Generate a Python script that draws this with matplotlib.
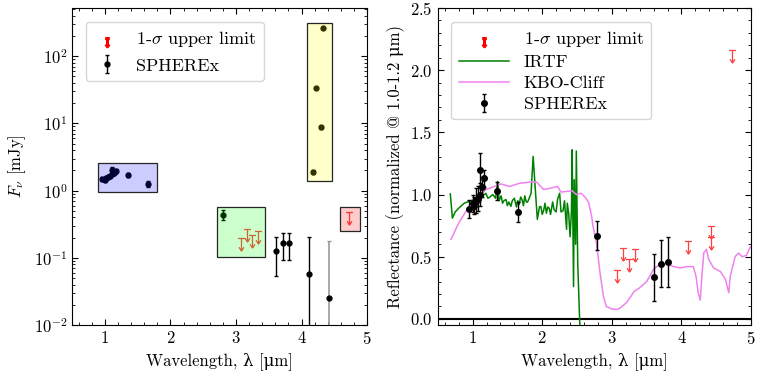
import numpy as np
import matplotlib
matplotlib.use('Agg')
import matplotlib.pyplot as plt
from matplotlib.patches import Rectangle
from matplotlib.path import Path
from matplotlib.lines import Line2D

plt.rcParams['font.family'] = ['cmr10', 'DejaVu Serif']
plt.rcParams['mathtext.fontset'] = 'cm'
plt.rcParams['axes.formatter.use_mathtext'] = True
plt.rcParams['axes.unicode_minus'] = False
plt.rcParams['font.size'] = 12

# --- left panel: flux density (mJy) ---
flux_wl = [0.96, 1.00, 1.02, 1.05, 1.08, 1.10, 1.11, 1.14, 1.17, 1.35, 1.65,
           2.80, 3.61, 3.71, 3.81, 4.11, 4.18, 4.22, 4.30, 4.33]
flux = [1.50, 1.45, 1.55, 1.60, 1.65, 1.75, 2.00, 1.85, 1.95, 1.70, 1.25,
        0.44, 0.128, 0.164, 0.164, 0.058, 1.90, 33.7, 8.8, 262.0]
flux_err = [0.10, 0.10, 0.10, 0.12, 0.12, 0.12, 0.25, 0.15, 0.15, 0.12, 0.12,
            0.07, 0.075, 0.07, 0.07, 0.145, 0.15, 1.5, 0.5, 10.0]
# faint point with a grey error bar
faint_wl, faint_flux, faint_err = 4.42, 0.025, 0.155

flux_lim_wl = [3.07, 3.17, 3.25, 3.34, 4.72]
flux_lim = [0.197, 0.27, 0.218, 0.25, 0.48]

# highlight boxes: (x0, x1, y0, y1, colour)
boxes = [(0.89, 1.79, 0.95, 2.56, 'blue'),
         (4.09, 4.46, 1.39, 310.0, 'yellow'),
         (2.71, 3.44, 0.102, 0.577, 'lime'),
         (4.59, 4.89, 0.253, 0.577, 'red')]

# --- right panel: reflectance ---
refl_wl = [0.95, 1.00, 1.02, 1.05, 1.08, 1.10, 1.11, 1.14, 1.17, 1.35, 1.65,
           2.79, 3.61, 3.71, 3.81]
refl = [0.885, 0.93, 0.91, 0.95, 0.965, 1.00, 1.20, 1.06, 1.13, 1.03, 0.86,
        0.67, 0.335, 0.445, 0.46]
refl_err = [0.07, 0.07, 0.07, 0.10, 0.10, 0.09, 0.13, 0.08, 0.07, 0.07, 0.08,
            0.12, 0.19, 0.19, 0.20]

refl_lim_wl = [3.07, 3.16, 3.25, 3.33, 4.10, 4.42, 4.42, 4.73]
refl_lim = [0.39, 0.57, 0.48, 0.56, 0.63, 0.745, 0.66, 2.16]

irtf_wl = [0.68, 0.71, 0.75, 0.80, 0.88, 0.95, 1.02, 1.10, 1.15, 1.19, 1.22,
           1.25, 1.29, 1.33, 1.36, 1.38, 1.41, 1.43, 1.45, 1.48, 1.50, 1.52,
           1.55, 1.57, 1.60, 1.63, 1.65, 1.67, 1.69, 1.71, 1.73, 1.75, 1.77,
           1.79, 1.82, 1.84, 1.87, 1.90, 1.93, 1.96, 1.98, 2.00, 2.02, 2.04,
           2.06, 2.08, 2.10, 2.12, 2.15, 2.17, 2.20, 2.22, 2.25, 2.27, 2.30,
           2.32, 2.35, 2.36, 2.38, 2.40, 2.42, 2.43, 2.45, 2.46, 2.48, 2.49,
           2.51, 2.54]
irtf = [1.005, 0.81, 0.86, 0.89, 0.93, 0.945, 0.96, 0.97, 0.99, 1.01, 0.97,
        0.98, 1.00, 0.97, 1.106, 0.95, 0.99, 0.93, 0.95, 0.96, 0.91, 0.94,
        0.905, 0.95, 0.97, 0.90, 0.95, 0.92, 0.98, 0.96, 0.91, 0.99, 0.94,
        0.94, 0.98, 1.01, 1.307, 1.05, 0.80, 0.90, 0.905, 0.84, 0.87, 0.93,
        0.85, 0.90, 0.89, 0.84, 0.94, 0.88, 0.86, 0.96, 1.01, 0.86, 0.87,
        0.95, 0.72, 0.93, 0.85, 0.66, 0.87, 1.36, 0.26, 1.12, 0.60, 1.35,
        0.45, -0.05]

kbo_wl = [0.69, 0.80, 0.905, 1.00, 1.10, 1.19, 1.29, 1.41, 1.53, 1.67, 1.82,
          1.92, 2.02, 2.11, 2.22, 2.27, 2.43, 2.49, 2.56, 2.63, 2.67, 2.71,
          2.73, 2.78, 2.83, 2.88, 2.92, 3.00, 3.07, 3.12, 3.21, 3.26, 3.32,
          3.40, 3.50, 3.60, 3.69, 3.79, 3.89, 3.98, 4.08, 4.17, 4.21, 4.24,
          4.27, 4.29, 4.32, 4.36, 4.39, 4.46, 4.56, 4.63, 4.68, 4.70, 4.77,
          4.82, 4.87, 4.93, 4.99]
kbo = [0.64, 0.77, 0.865, 0.93, 0.985, 1.04, 1.06, 1.085, 1.065, 1.09, 1.10,
       1.10, 1.04, 1.05, 1.065, 1.02, 1.03, 1.00, 1.01, 0.97, 0.93, 0.825,
       0.745, 0.61, 0.37, 0.18, 0.10, 0.08, 0.075, 0.088, 0.13, 0.17, 0.22,
       0.25, 0.30, 0.40, 0.44, 0.44, 0.42, 0.41, 0.42, 0.42, 0.34, 0.21,
       0.15, 0.32, 0.53, 0.56, 0.48, 0.41, 0.38, 0.32, 0.21, 0.34, 0.50,
       0.53, 0.50, 0.51, 0.58]

# upper-limit marker: cap at the value, stem and open arrowhead below it
ul_marker = Path([(-0.28, 0), (0.28, 0), (0, 0), (0, -1),
                  (-0.2, -0.7), (0, -1), (0.2, -0.7)],
                 [Path.MOVETO, Path.LINETO, Path.MOVETO, Path.LINETO,
                  Path.MOVETO, Path.LINETO, Path.LINETO])
lim_red = (1.0, 0.25, 0.25)

fig = plt.figure(figsize=(7.68, 3.82), dpi=100)
ax1 = fig.add_axes([0.094, 0.149, 0.384, 0.830])
ax2 = fig.add_axes([0.570, 0.149, 0.408, 0.830])

# left panel
sph = ax1.errorbar(flux_wl, flux, yerr=flux_err, fmt='o', color='k', ms=3.5,
                   capsize=1.5, elinewidth=1)
ax1.errorbar(faint_wl, faint_flux, yerr=faint_err, fmt='o', color='k', ms=3.5,
             ecolor='0.6', capsize=1.5, elinewidth=1.2)
ax1.plot(flux_lim_wl, flux_lim, ls='none', marker=ul_marker, ms=18,
         mec=lim_red, mew=0.9, fillstyle='none')
for x0, x1, y0, y1, c in boxes:
    ax1.add_patch(Rectangle((x0, y0), x1 - x0, y1 - y0, facecolor=c, alpha=0.2,
                            zorder=5))
    ax1.add_patch(Rectangle((x0, y0), x1 - x0, y1 - y0, facecolor='none',
                            edgecolor='0.15', lw=0.9, zorder=6))
ax1.set_yscale('log')
ax1.set_xlim(0.5, 5)
ax1.set_ylim(1e-2, 520)
ax1.set_xlabel('Wavelength, λ [μm]')
ax1.set_ylabel(r'$F_\nu$ [mJy]')

lim_handle = Line2D([], [], ls='none', marker=ul_marker, ms=12, mec='red',
                    mew=2.2, fillstyle='none')
ax1.legend([lim_handle, sph], [r'1-$\sigma$ upper limit', 'SPHEREx'],
           loc='upper left', bbox_to_anchor=(0.015, 0.985), fontsize=13,
           handlelength=1.6, labelspacing=0.5)

# right panel
ax2.axhline(0, color='k', lw=1.5)
irtf_line, = ax2.plot(irtf_wl, irtf, color='green', lw=1.1)
kbo_line, = ax2.plot(kbo_wl, kbo, color='violet', lw=1.1)
sph2 = ax2.errorbar(refl_wl, refl, yerr=refl_err, fmt='o', color='k', ms=4,
                    capsize=1.5, elinewidth=1, zorder=4)
ax2.plot(refl_lim_wl, refl_lim, ls='none', marker=ul_marker, ms=18,
         mec=lim_red, mew=0.9, fillstyle='none')
ax2.set_xlim(0.5, 5)
ax2.set_ylim(-0.05, 2.5)
ax2.set_xlabel('Wavelength, λ [μm]')
ax2.set_ylabel('Reflectance (normalized @ 1.0-1.2 μm)')
ax2.legend([lim_handle, irtf_line, kbo_line, sph2],
           [r'1-$\sigma$ upper limit', 'IRTF', 'KBO-Cliff', 'SPHEREx'],
           loc='upper left', bbox_to_anchor=(0.015, 0.985), fontsize=13,
           handlelength=2.8, labelspacing=0.3)

for ax in (ax1, ax2):
    ax.minorticks_on()
    ax.tick_params(which='both', direction='in', top=True, right=True)
    ax.tick_params(which='major', length=4)
    ax.tick_params(which='minor', length=2)

fig.savefig('out.png', dpi=100)
